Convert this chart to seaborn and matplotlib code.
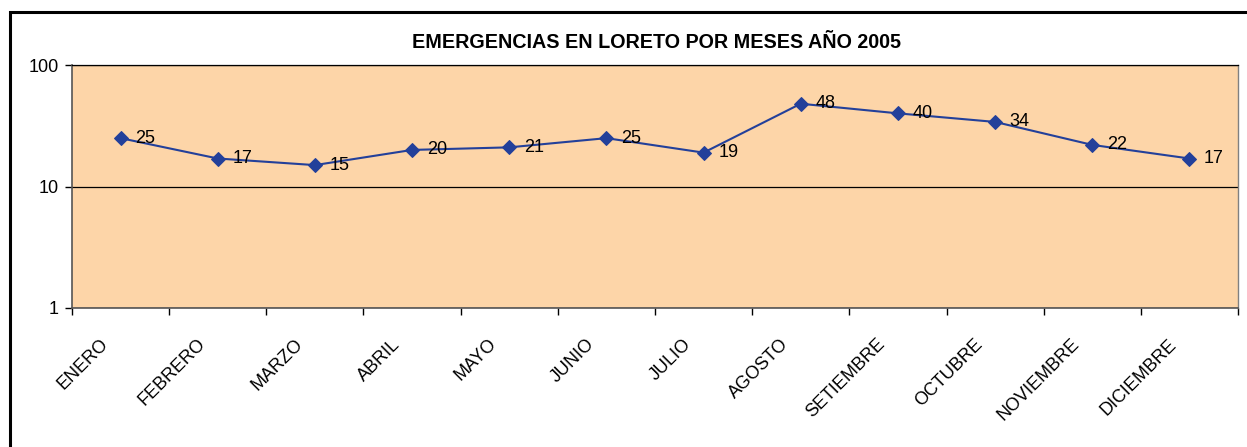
import matplotlib
matplotlib.use("Agg")
import matplotlib.pyplot as plt
import matplotlib.transforms as mtransforms
import seaborn as sns
import pandas as pd
import numpy as np
from matplotlib.patches import Rectangle
from matplotlib.ticker import FixedLocator, NullFormatter

months = ["ENERO", "FEBRERO", "MARZO", "ABRIL", "MAYO", "JUNIO", "JULIO",
          "AGOSTO", "SETIEMBRE", "OCTUBRE", "NOVIEMBRE", "DICIEMBRE"]
values = [25, 17, 15, 20, 21, 25, 19, 48, 40, 34, 22, 17]
title = "EMERGENCIAS EN LORETO POR MESES AÑO 2005"
yticks = [1, 10, 100]

sns.set_style("white")
plt.rcParams['font.family'] = ['Liberation Sans', 'DejaVu Sans']
plt.rcParams['text.color'] = 'black'
plt.rcParams['xtick.color'] = 'black'
plt.rcParams['ytick.color'] = 'black'
plt.rcParams['xtick.labelcolor'] = 'black'
plt.rcParams['ytick.labelcolor'] = 'black'

W, H = 1247, 447
fig = plt.figure(figsize=(W / 100, H / 100), dpi=100)
ax = fig.add_axes([72 / W, 1 - 308 / H, (1238 - 72) / W, (308 - 65) / H])

df = pd.DataFrame({"mes": months, "valor": values, "pos": np.arange(len(months))})
line_color = "#23409A"
sns.lineplot(data=df, x="pos", y="valor", ax=ax, color=line_color, lw=1.5,
             marker="D", markersize=7.5, markeredgecolor=line_color,
             markerfacecolor=line_color)

FS = 13
ax.set_facecolor("#FDD5A8")
ax.set_yscale("log")
ax.set_ylim(1, 100)
ax.set_xlim(-0.5, len(months) - 0.5)
ax.set_yticks(yticks)
ax.set_yticklabels([str(v) for v in yticks], fontsize=FS)
ax.yaxis.set_minor_locator(FixedLocator([]))
ax.tick_params(axis="y", which="major", length=5, width=1, color="black",
               direction="out", left=True, pad=4.5)
ax.grid(axis="y", which="major", color="black", lw=0.9)
ax.set_axisbelow(True)

ax.set_xticks(df["pos"])
ax.set_xticklabels(months, rotation=45, ha="right", rotation_mode="anchor",
                   fontsize=FS)
ax.xaxis.set_minor_locator(FixedLocator(np.arange(-0.5, len(months), 1.0)))
ax.xaxis.set_minor_formatter(NullFormatter())
ax.tick_params(axis="x", which="major", length=0, pad=20)
ax.tick_params(axis="x", which="minor", length=5, width=1, color="black",
               direction="out", bottom=True)
shift = mtransforms.ScaledTranslation(-21 / 100, 0, fig.dpi_scale_trans)
for lbl in ax.get_xticklabels():
    lbl.set_transform(lbl.get_transform() + shift)

ax.set_xlabel("")
ax.set_ylabel("")
for s in ["left", "bottom"]:
    ax.spines[s].set_color("#555555")
    ax.spines[s].set_linewidth(1.2)
ax.spines["right"].set_color("#808080")
ax.spines["right"].set_linewidth(1.0)
ax.spines["top"].set_color("black")
ax.spines["top"].set_linewidth(0.9)

for x, v in zip(df["pos"], values):
    ax.annotate(str(v), (x, v), xytext=(10.5, 0), textcoords="offset points",
                ha="left", va="center", fontsize=FS, color="black")

fig.text(656 / W, 1 - 42 / H, title, ha="center", va="center",
         fontsize=14.2, fontweight="bold", color="black")

fig.patches.append(Rectangle((9.5 / W, -0.1), 1.2, (H - 12) / H + 0.1,
                             transform=fig.transFigure, fill=False,
                             lw=2.2, edgecolor="black", clip_on=False))

fig.savefig("out.png", dpi=100, facecolor="white")
